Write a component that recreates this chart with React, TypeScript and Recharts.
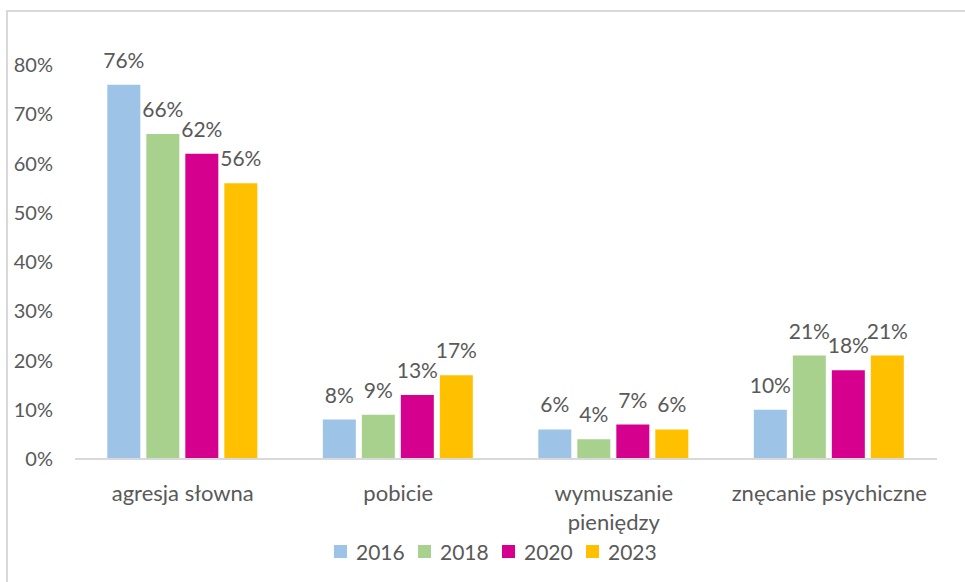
import React from "react";
import { BarChart, Bar, XAxis, YAxis, LabelList } from "recharts";

const categories = ["agresja słowna", "pobicie", "wymuszanie pieniędzy", "znęcanie psychiczne"];
const years = ["2016", "2018", "2020", "2023"];
const v2016 = [76, 8, 6, 10];
const v2018 = [66, 9, 4, 21];
const v2020 = [62, 13, 7, 18];
const v2023 = [56, 17, 6, 21];
const yTicks = [0, 10, 20, 30, 40, 50, 60, 70, 80];
const colors = ["#9DC3E6", "#A9D18E", "#D6008F", "#FFC000"];

const series = [v2016, v2018, v2020, v2023];
const data = categories.map((c, i) => {
  const row: any = { name: c };
  years.forEach((y, j) => {
    row[y] = series[j][i];
  });
  return row;
});

const FONT = "Lato, 'Open Sans', sans-serif";
const TEXT = "#595959";

// wrap labels wider than the category band (approximate by character count)
function wrapLabel(s: string): string[] {
  if (s.length <= 19) return [s];
  const words = s.split(" ");
  const lines: string[] = [];
  let cur = "";
  words.forEach((w) => {
    const next = cur ? cur + " " + w : w;
    if (next.length > 12 && cur) {
      lines.push(cur);
      cur = w;
    } else {
      cur = next;
    }
  });
  if (cur) lines.push(cur);
  return lines;
}

const XTick = (props: any) => {
  const { x, y, payload } = props;
  const lines = wrapLabel(String(payload.value));
  return (
    <text x={x} y={y} textAnchor="middle" fontSize={22} fontFamily={FONT} fill={TEXT}>
      {lines.map((l, i) => (
        <tspan key={i} x={x} dy={i === 0 ? 15.6 : 29}>
          {l}
        </tspan>
      ))}
    </text>
  );
};

const LegendBox = () => (
  <div
    style={{
      position: "absolute",
      left: 334,
      top: 539,
      display: "flex",
      fontFamily: FONT,
      fontSize: 21,
      color: TEXT,
      lineHeight: "25px",
    }}
  >
    {years.map((y, i) => (
      <div key={y} style={{ display: "flex", alignItems: "center", width: i < 3 ? 84 : undefined }}>
        <div style={{ width: 13, height: 13, background: colors[i], marginRight: 9 }} />
        <span>{y}</span>
      </div>
    ))}
  </div>
);

export default function App() {
  return (
    <div style={{ position: "absolute", left: 0, top: 0, width: 965, height: 582, background: "#fff", overflow: "hidden" }}>
      <div
        style={{
          position: "absolute",
          left: 6,
          top: 10,
          width: 1000,
          height: 620,
          border: "2px solid #D9D9D9",
          boxSizing: "border-box",
        }}
      />
      <div style={{ position: "absolute", left: 0, top: 0 }}>
        <BarChart
          width={965}
          height={582}
          data={data}
          margin={{ top: 65, right: 28, left: 0, bottom: 0 }}
          barCategoryGap="15%"
          barGap={6}
        >
          <XAxis
            dataKey="name"
            height={123}
            tickLine={false}
            tickSize={0}
            tickMargin={26}
            interval={0}
            axisLine={{ stroke: "#D9D9D9", strokeWidth: 2 }}
            tick={<XTick />}
          />
          <YAxis
            width={75}
            domain={[0, 80]}
            ticks={yTicks}
            interval={0}
            axisLine={false}
            tickLine={false}
            tickSize={0}
            tickMargin={22}
            tickFormatter={(v: number) => `${v}%`}
            tick={{ fontSize: 20, fontFamily: FONT, fill: TEXT }}
          />
          {years.map((y, i) => (
            <Bar key={y} dataKey={y} fill={colors[i]} isAnimationActive={false}>
              <LabelList
                dataKey={y}
                position="top"
                offset={17}
                formatter={(v: any) => `${v}%`}
                style={{ fontSize: 21, fontFamily: FONT, fill: TEXT }}
              />
            </Bar>
          ))}
        </BarChart>
      </div>
      <LegendBox />
    </div>
  );
}
